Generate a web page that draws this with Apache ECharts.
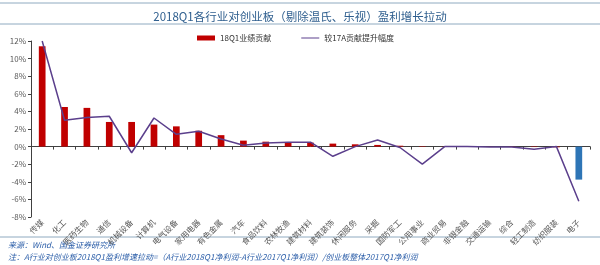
<!DOCTYPE html>
<html><head><meta charset="utf-8">
<script src="https://cdn.jsdelivr.net/npm/echarts@6/dist/echarts.min.js"></script>
<style>html,body{margin:0;padding:0;background:#fff}#c{width:600px;height:265px}</style>
</head><body><div id="c"></div>
<script>
const categories = ['传媒','化工','医药生物','通信','机械设备','计算机','电气设备','家用电器','有色金属','汽车','食品饮料','农林牧渔','建筑材料','建筑装饰','休闲服务','采掘','国防军工','公用事业','商业贸易','非银金融','交通运输','综合','轻工制造','纺织服装','电子'];
const barValues = [11.4,4.5,4.4,2.8,2.8,2.5,2.3,1.8,1.3,0.68,0.56,0.45,0.45,0.34,0.26,0.19,0.1,0.05,0.02,0.01,-0.02,-0.03,-0.05,-0.08,-3.75];
const lineValues = [12.0,3.0,3.3,3.45,-0.7,3.25,1.4,1.75,0.87,0.15,0.4,0.5,0.5,-1.1,0.0,0.75,-0.1,-2.0,0.0,0.0,-0.05,-0.05,-0.3,0.0,-6.2];
const yTicks = [-8,-6,-4,-2,0,2,4,6,8,10,12];
const titleText = '2018Q1各行业对创业板（剔除温氏、乐视）盈利增长拉动';
const seriesNames = ['18Q1业绩贡献','较17A贡献提升幅度'];
const sourceText = '来源：Wind、国金证券研究所';
const noteText = '注：A行业对创业板2018Q1盈利增速拉动=（A行业2018Q1净利润-A行业2017Q1净利润）/创业板整体2017Q1净利润';

const FONT = '"Noto Sans CJK SC", "Noto Sans", sans-serif';
const chart = echarts.init(document.getElementById('c'), null, {renderer:'canvas'});
chart.setOption({
  animation:false,
  textStyle:{fontFamily:FONT},
  title:{text:titleText,left:'center',top:6,textStyle:{fontSize:11.5,fontWeight:'normal',color:'#2E5E8E',fontFamily:FONT}},
  graphic:[
    {type:'line',shape:{x1:0,y1:3,x2:600,y2:3},style:{stroke:'#8FAAC0',lineWidth:1}},
    {type:'line',shape:{x1:0,y1:24,x2:600,y2:24},style:{stroke:'#8FAAC0',lineWidth:1}},
    {type:'line',shape:{x1:0,y1:237,x2:600,y2:237},style:{stroke:'#8FAAC0',lineWidth:1}},
    {type:'text',left:8,top:241,style:{text:sourceText,fontSize:8,fontStyle:'italic',fill:'#2A5DA8',fontFamily:FONT}},
    {type:'text',left:8,top:253,style:{text:noteText,fontSize:8,fontStyle:'italic',fill:'#2A5DA8',fontFamily:FONT}}
  ],
  legend:{top:29,left:192,itemGap:30,itemWidth:18,itemHeight:5,textStyle:{fontSize:8,color:'#333'},
    data:[{name:seriesNames[0],icon:'rect'},{name:seriesNames[1],icon:'path://M0,0L18,0L18,1L0,1Z'}]},
  grid:{left:31,right:10,top:41,bottom:48,containLabel:false},
  xAxis:{type:'category',data:categories,
    axisLine:{onZero:true,lineStyle:{color:'#404040',width:1}},
    axisTick:{show:true,length:3,lineStyle:{color:'#404040'}},
    axisLabel:{rotate:45,interval:0,fontSize:8,color:'#595959',margin:4}},
  yAxis:{type:'value',min:-8,max:12,interval:2,
    axisLine:{show:true,lineStyle:{color:'#404040'}},
    axisTick:{show:true,length:3,lineStyle:{color:'#404040'}},
    splitLine:{show:false},
    axisLabel:{fontSize:8,color:'#595959',formatter:v=>v+'%',margin:5}},
  series:[
    {name:seriesNames[0],type:'bar',data:barValues.map((v,i)=>({value:v,itemStyle:{color:categories[i]==='电子'?'#2E75B6':'#C00000'}})),
      barWidth:'30%',itemStyle:{color:'#C00000'}},
    {name:seriesNames[1],type:'line',data:lineValues,symbol:'none',lineStyle:{color:'#5B3F8C',width:1.5},itemStyle:{color:'#5B3F8C'}}
  ]
});
</script></body></html>
